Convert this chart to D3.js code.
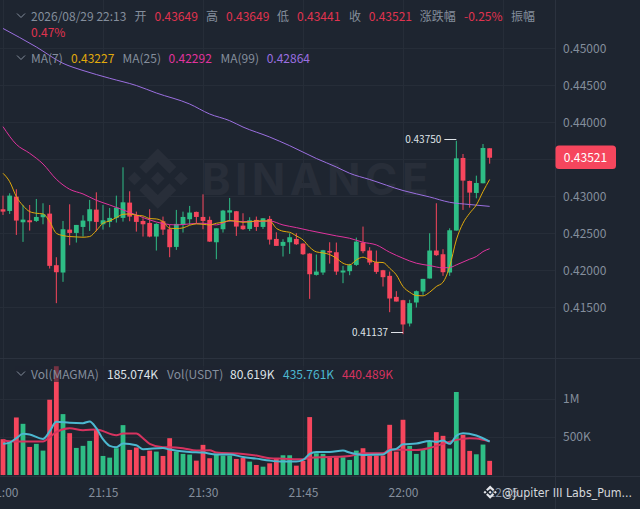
<!DOCTYPE html>
<html><head><meta charset="utf-8">
<script src="https://cdn.jsdelivr.net/npm/d3@7"></script>
<style>
html,body{margin:0;padding:0;background:#1e2530;overflow:hidden}
svg{display:block}
text{font-family:"Noto Sans CJK SC","Noto Sans",sans-serif}
.axis path,.axis line{display:none}
.axis text{fill:#848e9c;font-size:12px;font-family:"Noto Sans CJK SC","Noto Sans",sans-serif}
</style></head><body>
<svg id="c" width="640" height="509"></svg>
<script>
const opens=[.42825,.42802,.42996,.42649,.42676,.42667,.42717,.42766,.42069,.41970,.42550,.42505,.42586,.42663,.42820,.42622,.42654,.42708,.42708,.42915,.42744,.42667,.42640,.42456,.42663,.42555,.42316,.42613,.42690,.42789,.42721,.42681,.42379,.42555,.42780,.42798,.42604,.42559,.42681,.42586,.42694,.42424,.42330,.42379,.42424,.42361,.42226,.41938,.41970,.42262,.42244,.41970,.41988,.42073,.42375,.42267,.42109,.42001,.41925,.41641,.41596,.41281,.41565,.41713,.41889,.42267,.42217,.41970,.42537,.43518,.43207,.43045,.43176,.43649];
const closes=[.42793,.43009,.42672,.42685,.42649,.42721,.42757,.42060,.41974,.42555,.42505,.42613,.42672,.42825,.42654,.42676,.42708,.42847,.42919,.42726,.42654,.42622,.42456,.42627,.42550,.42312,.42627,.42721,.42780,.42721,.42667,.42388,.42568,.42807,.42811,.42591,.42555,.42676,.42586,.42703,.42415,.42330,.42384,.42447,.42352,.42217,.41947,.41983,.42271,.42240,.41983,.41997,.42069,.42388,.42258,.42105,.41979,.41907,.41619,.41578,.41268,.41556,.41718,.41884,.42267,.42204,.41974,.42541,.43513,.43212,.43050,.43180,.43653,.43521];
const highs=[.43009,.43041,.43095,.42883,.42883,.42964,.42906,.42883,.42177,.42667,.42892,.42613,.42744,.42951,.43054,.42883,.42843,.43009,.43392,.43068,.42793,.42703,.42825,.42636,.42726,.42613,.42816,.42793,.42870,.42793,.43027,.42726,.42568,.42816,.42978,.42802,.42771,.42717,.42726,.42703,.42735,.42514,.42420,.42501,.42501,.42366,.42231,.42213,.42276,.42379,.42375,.42060,.42087,.42442,.42591,.42312,.42267,.42006,.41983,.41718,.41601,.41601,.41727,.41884,.42501,.42906,.42285,.42568,.43750,.43572,.43212,.43279,.43707,.43649];
const lows=[.42748,.42762,.42478,.42384,.42537,.42654,.42622,.42024,.41556,.41844,.42339,.42375,.42456,.42532,.42528,.42550,.42582,.42645,.42658,.42663,.42523,.42456,.42447,.42267,.42478,.42177,.42276,.42510,.42613,.42636,.42555,.42384,.42150,.42510,.42658,.42465,.42546,.42532,.42532,.42559,.42348,.42330,.42186,.42222,.42343,.42208,.41614,.41929,.41938,.42091,.41938,.41826,.41934,.42060,.42231,.42073,.41952,.41781,.41434,.41578,.41137,.41241,.41497,.41668,.41889,.42195,.41925,.41925,.42537,.42816,.42847,.42973,.43176,.43441];
const ma7=[.43311,.43198,.42996,.42874,.42793,.42771,.42762,.42658,.42501,.42469,.42456,.42451,.42447,.42456,.42537,.42636,.42667,.42712,.42757,.42762,.42744,.42735,.42699,.42694,.42658,.42568,.42564,.42573,.42609,.42627,.42622,.42613,.42636,.42649,.42672,.42663,.42649,.42654,.42667,.42667,.42667,.42568,.42528,.42514,.42465,.42411,.42312,.42249,.42235,.42213,.42163,.42096,.42073,.42141,.42177,.42141,.42109,.42105,.42028,.41938,.41781,.41704,.41659,.41655,.41704,.41781,.41839,.42051,.42411,.42636,.42771,.42883,.43063,.43227];
const ma25Idx=[0,2,4,6,8,10,12,14,16,18,20,22,24,26,28,30,32,34,36,38,40,42,44,46,48,50,52,54,56,58,60,62,64,66,67,68,70,71,72,73];
const ma25=[.43941,.43702,.43581,.43437,.43230,.43095,.43032,.42946,.42883,.42816,.42748,.42681,.42631,.42613,.42627,.42636,.42613,.42667,.42658,.42658,.42667,.42613,.42577,.42537,.42501,.42465,.42433,.42379,.42343,.42244,.42163,.42096,.42064,.42033,.42037,.42073,.42150,.42186,.42253,.42292];
const ma99Idx=[0,5,9,12,16,20,23,28,31,34,36,40,43,47,50,52,55,60,64,67,70,73];
const ma99=[.45268,.45018,.44797,.44700,.44595,.44497,.44396,.44247,.44112,.44022,.43936,.43801,.43684,.43511,.43396,.43311,.43227,.43078,.42991,.42919,.42889,.42864];
const volumes=[468,437,752,669,367,407,319,984,1422,796,547,354,381,446,590,249,227,350,652,328,359,249,319,306,249,481,306,276,267,188,394,219,262,254,254,210,223,175,131,109,153,219,258,258,122,184,757,284,276,227,232,232,197,319,350,249,254,254,656,306,722,381,276,328,437,560,512,346,1085,525,315,271,398,185.074];
const volFastIdx=[0,1,2,3,4,6,7,8,10,12,13,14,15,16,17,18,20,21,24,25,28,30,32,34,36,38,40,42,44,45,46,47,49,51,52,54,57,58,59,60,62,64,65,66,67,68,69,71,73];
const volFast=[407,424,481,538,529,472,569,695,682,678,700,612,468,381,363,411,389,337,354,332,302,293,267,267,236,214,188,175,175,197,276,302,302,319,293,262,267,324,341,402,411,446,433,451,407,512,547,516,435.761];
const volSlowIdx=[0,1,2,6,7,8,10,12,14,17,18,20,21,22,24,25,27,29,31,32,36,38,40,42,45,46,49,52,54,57,58,62,64,66,68,70,71,73];
const volSlow=[455,442,437,437,494,564,612,586,595,520,542,542,481,407,363,363,350,319,324,293,276,254,219,214,206,227,236,249,284,284,332,328,354,407,459,481,477,440.489];
const priceTicks=[.45,.445,.44,.435,.43,.425,.42,.415];
const priceLabels=[.45,.445,.44,.43,.425,.42,.415];
const volTicks=[500,1000];
const timeTicks=["21:00","21:15","21:30","21:45","22:00","22:15"];
const headerRow=[["2026/08/29 22:13",31,"g"],["开",134.5,"g"],["0.43649",154.5,"r"],["高",206,"g"],["0.43649",226,"r"],["低",277,"g"],["0.43441",297,"r"],["收",349,"g"],["0.43521",368.7,"r"],["涨跌幅",419.7,"g"],["-0.25%",464,"r"],["振幅",511,"g"]];
const maRow=[["MA(7)",31,"g"],["0.43227",71,"y"],["MA(25)",122.5,"g"],["0.42292",168.5,"p"],["MA(99)",220.5,"g"],["0.42864",266.7,"v"]];
const volRow=[["Vol(MAGMA)",31,"g"],["185.074K",107,"w"],["Vol(USDT)",167,"g"],["80.619K",230,"w"],["435.761K",283,"c"],["440.489K",342,"m"]];

const UP="#2ebd85",DOWN="#f6465d",GRID="#262d38",SEP="#2b323e";
const colors={g:"#848e9c",r:"#e0334f",y:"#e0aa0c",p:"#e0339e",v:"#9b6fe0",w:"#dfe3e8",c:"#4cb8d0",m:"#d6335f"};
const svg=d3.select("#c");
svg.append("rect").attr("width",640).attr("height",509).attr("fill","#1e2530");
const t0=new Date(2026,7,29,21,0);
const minute=i=>new Date(+t0+i*60000);
const x=d3.scaleTime().domain([t0,minute(75)]).range([3,503]);
const y=d3.scaleLinear().domain([.45,.415]).range([48.3,307.3]);
const yv=d3.scaleLinear().domain([0,1000]).range([475,398.5]);
svg.append("defs").call(d=>{
 d.append("clipPath").attr("id","pm").append("rect").attr("width",555).attr("height",358);
 d.append("clipPath").attr("id","pv").append("rect").attr("y",358).attr("width",555).attr("height",119);
});
const grid=svg.append("g").attr("stroke",GRID).attr("stroke-width",1);
timeTicks.forEach((_,k)=>{const px=Math.round(x(minute(k*15)))+.5;
 if(px<555)grid.append("line").attr("x1",px).attr("x2",px).attr("y1",0).attr("y2",477);});
priceTicks.forEach(p=>{const py=Math.round(y(p))+.5;grid.append("line").attr("x1",0).attr("x2",555).attr("y1",py).attr("y2",py);});
volTicks.forEach(v=>{const py=Math.round(yv(v))+.5;grid.append("line").attr("x1",0).attr("x2",555).attr("y1",py).attr("y2",py);});

// watermark
const logo=["38.7,53.2 63.3,28.6 87.9,53.2 102.2,38.9 63.3,0 24.4,38.9","0,63.3 14.3,49 28.6,63.3 14.3,77.6","77.6,63.3 63.3,49 49,63.3 63.3,77.6","98,63.3 112.3,49 126.6,63.3 112.3,77.6","87.9,73.4 63.3,98 38.7,73.4 24.4,87.7 63.3,126.6 102.2,87.7"];
const wm=svg.append("g").attr("transform","translate(127.7,148.5) scale(.475)").attr("fill","#282e39");
logo.forEach(p=>wm.append("polygon").attr("points",p));
svg.append("text").attr("x",201.5).attr("y",195).attr("font-size",44).attr("font-weight",700).attr("textLength",227).attr("lengthAdjust","spacing").attr("fill","#282e39").style("font-family","Inter").text("BINANCE");

// volume pane
const vol=svg.append("g").attr("clip-path","url(#pv)");
vol.selectAll("rect").data(volumes).join("rect")
 .attr("x",(d,i)=>x(minute(i))-2.4).attr("width",4.8)
 .attr("y",d=>yv(d)).attr("height",d=>yv(0)-yv(d))
 .attr("fill",(d,i)=>closes[i]>=opens[i]?UP:DOWN);
const vline=d3.line().x(d=>x(minute(d[0]))).y(d=>yv(d[1])).curve(d3.curveMonotoneX);
vol.append("path").attr("d",vline(d3.zip(volSlowIdx,volSlow))).attr("fill","none").attr("stroke","#d6335f").attr("stroke-width",2);
vol.append("path").attr("d",vline(d3.zip(volFastIdx,volFast))).attr("fill","none").attr("stroke","#4cb8d0").attr("stroke-width",2);

// candles
const main=svg.append("g").attr("clip-path","url(#pm)");
const idx=d3.range(opens.length);
const col=i=>closes[i]>=opens[i]?UP:DOWN;
main.selectAll(".w").data(idx).join("rect").attr("class","w")
 .attr("x",i=>x(minute(i))-.5).attr("width",1)
 .attr("y",i=>y(highs[i])).attr("height",i=>y(lows[i])-y(highs[i])).attr("fill",col);
main.selectAll(".b").data(idx).join("rect").attr("class","b")
 .attr("x",i=>x(minute(i))-2.4).attr("width",4.8)
 .attr("y",i=>y(Math.max(opens[i],closes[i])))
 .attr("height",i=>Math.max(1,Math.abs(y(opens[i])-y(closes[i])))).attr("fill",col);
const pline=d3.line().x(d=>x(minute(d[0]))).y(d=>y(d[1])).curve(d3.curveMonotoneX);
main.append("path").attr("d",pline(d3.zip(ma99Idx,ma99))).attr("fill","none").attr("stroke","#9b6fe0").attr("stroke-width",1);
main.append("path").attr("d",pline(d3.zip(ma25Idx,ma25))).attr("fill","none").attr("stroke","#e0339e").attr("stroke-width",1);
main.append("path").attr("d",pline(ma7.map((v,i)=>[i,v]))).attr("fill","none").attr("stroke","#e0aa0c").attr("stroke-width",1);

// extreme labels
const iHi=d3.greatest(idx,i=>highs[i]),iLo=d3.least(idx,i=>lows[i]);
[[iHi,highs[iHi]],[iLo,lows[iLo]]].forEach(([i,p])=>{
 const px=x(minute(i)),py=Math.round(y(p))-1.5;
 svg.append("line").attr("x1",px-12).attr("x2",px).attr("y1",py).attr("y2",py).attr("stroke","#dfe3e8");
 svg.append("text").attr("x",px-15).attr("y",py+3.5).attr("text-anchor","end").attr("font-size",10).attr("fill","#dfe3e8").text(p.toFixed(5));
});

// separators
const sep=svg.append("g").attr("stroke",SEP);
sep.append("line").attr("x1",555.5).attr("x2",555.5).attr("y1",0).attr("y2",509);
sep.append("line").attr("x1",0).attr("x2",640).attr("y1",358.5).attr("y2",358.5);
sep.append("line").attr("x1",0).attr("x2",640).attr("y1",476.5).attr("y2",476.5);

// axes
svg.append("g").attr("class","axis").attr("transform","translate(555,0)")
 .call(d3.axisRight(y).tickValues(priceLabels).tickSize(0).tickPadding(8).tickFormat(d3.format(".5f")));
svg.append("g").attr("class","axis").attr("transform","translate(555,0)")
 .call(d3.axisRight(yv).tickValues(volTicks).tickSize(0).tickPadding(8).tickFormat(d=>d>=1000?d/1000+"M":d+"K"));
svg.append("g").attr("class","axis").attr("transform","translate(0,488.5)")
 .call(d3.axisBottom(x).tickValues(timeTicks.map((_,k)=>minute(k*15))).tickSize(0).tickPadding(0).tickFormat((d,k)=>timeTicks[k]));

// last price tag
svg.append("rect").attr("x",555.5).attr("y",145.5).attr("width",60.5).attr("height",23.5).attr("rx",3.5).attr("fill",DOWN);
svg.append("text").attr("x",585.5).attr("y",y(closes[73])+4).attr("text-anchor","middle").attr("font-size",12).attr("fill","#fff").text(closes[73].toFixed(5));

// legends
svg.append("rect").attr("x",15).attr("y",366).attr("width",378).attr("height",16).attr("fill","#1e2530").attr("opacity",.6);
function row(items,yy){items.forEach(([t,px,c])=>svg.append("text").attr("x",px).attr("y",yy).attr("font-size",12).attr("fill",colors[c]).text(t));}
row(headerRow,20.5);
svg.append("text").attr("x",31).attr("y",37).attr("font-size",12).attr("fill",colors.r).text("0.47%");
row(maRow,63);
row(volRow,378.5);
[16,58,374].forEach(cy=>svg.append("polyline").attr("points",`${17},${cy-2.5} ${21},${cy+1.5} ${25},${cy-2.5}`).attr("fill","none").attr("stroke","#848e9c"));

// user mark
const um=svg.append("g").attr("transform","translate(483.5,485.5) scale(.105)").attr("fill","#e4e6ea");
logo.forEach(p=>um.append("polygon").attr("points",p));
svg.append("text").attr("x",502).attr("y",497).attr("font-size",12).attr("textLength",130).attr("lengthAdjust","spacingAndGlyphs").attr("fill","#d5d8dc").style("font-family","DejaVu Sans").text("@Jupiter III Labs_Pum...");
</script>
</body></html>
